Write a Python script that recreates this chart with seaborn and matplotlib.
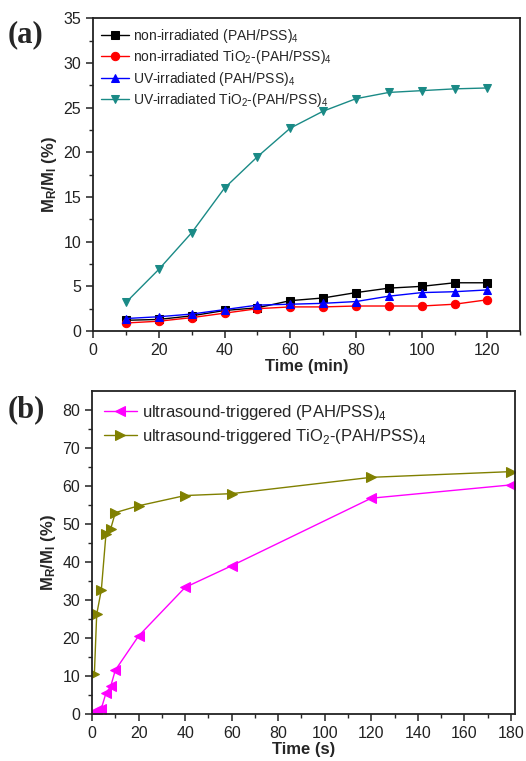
import matplotlib
matplotlib.use("Agg")
import matplotlib.pyplot as plt
import numpy as np
import pandas as pd
import seaborn as sns

# panel (a): release vs time (min)
time_a = [10, 20, 30, 40, 50, 60, 70, 80, 90, 100, 110, 120]
non_irr = [1.2, 1.3, 1.7, 2.3, 2.6, 3.4, 3.7, 4.3, 4.8, 5.0, 5.4, 5.4]
non_irr_tio2 = [0.9, 1.1, 1.5, 2.0, 2.5, 2.7, 2.7, 2.8, 2.8, 2.8, 3.0, 3.5]
uv_irr = [1.4, 1.6, 1.9, 2.4, 2.9, 3.0, 3.1, 3.3, 3.9, 4.3, 4.4, 4.6]
uv_irr_tio2 = [3.2, 6.9, 11.0, 16.0, 19.5, 22.7, 24.6, 26.0, 26.7, 26.9, 27.1, 27.2]

# panel (b): release vs time (s)
time_b = [1, 2, 4, 6, 8, 10, 20, 40, 60, 120, 180]
us_pah = [0.6, 1.0, 1.4, 5.5, 7.2, 11.5, 20.5, 33.3, 39.0, 56.8, 60.3]
us_tio2 = [10.5, 26.2, 32.7, 47.5, 48.7, 53.0, 54.8, 57.5, 58.0, 62.3, 63.8]

sns.set_style("ticks")
plt.rcParams["font.family"] = ["Liberation Sans", "DejaVu Sans"]
plt.rcParams["mathtext.fontset"] = "custom"
plt.rcParams["mathtext.rm"] = "Liberation Sans"
plt.rcParams["mathtext.bf"] = "Liberation Sans:bold"
plt.rcParams["axes.edgecolor"] = "#222222"

fig = plt.figure(figsize=(5.26, 7.61), dpi=100)
ax1 = fig.add_axes([0.177, 0.565, 0.812, 0.411])
ax2 = fig.add_axes([0.175, 0.062, 0.805, 0.424])

series_a = [
    ("non-irradiated (PAH/PSS)$_4$", non_irr, "black", "s"),
    ("non-irradiated TiO$_2$-(PAH/PSS)$_4$", non_irr_tio2, "red", "o"),
    ("UV-irradiated (PAH/PSS)$_4$", uv_irr, "blue", "^"),
    ("UV-irradiated TiO$_2$-(PAH/PSS)$_4$", uv_irr_tio2, "#1a8a86", "v"),
]
for label, vals, col, mk in series_a:
    df = pd.DataFrame({"t": time_a, "v": vals})
    sns.lineplot(data=df, x="t", y="v", ax=ax1, color=col, marker=mk,
                 markersize=6, markeredgecolor=col, linewidth=1.0, label=label)

series_b = [
    ("ultrasound-triggered (PAH/PSS)$_4$", us_pah, "#ff00ff", "<"),
    ("ultrasound-triggered TiO$_2$-(PAH/PSS)$_4$", us_tio2, "#808000", ">"),
]
for label, vals, col, mk in series_b:
    df = pd.DataFrame({"t": time_b, "v": vals})
    sns.lineplot(data=df, x="t", y="v", ax=ax2, color=col, marker=mk,
                 markersize=7, markeredgecolor=col, linewidth=1.0, label=label)

ax1.set_xlim(0, 130)
ax1.set_ylim(0, 35)
ax1.set_xticks(np.arange(0, 121, 20))
ax1.set_xticks(np.arange(10, 131, 20), minor=True)
ax1.set_yticks(np.arange(0, 36, 5))
ax1.set_yticks(np.arange(2.5, 35, 5), minor=True)
ax1.set_xlabel("Time (min)", fontweight="bold", fontsize=12, labelpad=1)
ax1.set_ylabel(r"$\mathbf{M_R/M_I}$ (%)", fontweight="bold", fontsize=12, labelpad=3)

ax2.set_xlim(0, 182)
ax2.set_ylim(0, 85)
ax2.set_xticks(np.arange(0, 181, 20))
ax2.set_xticks(np.arange(10, 181, 20), minor=True)
ax2.set_yticks(np.arange(0, 81, 10))
ax2.set_yticks(np.arange(5, 85, 10), minor=True)
ax2.set_xlabel("Time (s)", fontweight="bold", fontsize=12, labelpad=1)
ax2.set_ylabel(r"$\mathbf{M_R/M_I}$ (%)", fontweight="bold", fontsize=12, labelpad=3)

for ax in (ax1, ax2):
    for sp in ax.spines.values():
        sp.set_visible(True)
        sp.set_linewidth(1.3)
    ax.tick_params(which="major", direction="out", length=5, width=1.1,
                   labelsize=11.5, colors="#222222", top=False, right=False)
    ax.tick_params(which="minor", direction="out", length=3, width=1.0,
                   top=False, right=False)

ax1.legend(loc="upper left", frameon=False, fontsize=10, handlelength=2.0,
           borderaxespad=0.2, labelspacing=0.25, handletextpad=0.3)
ax2.legend(loc="upper left", frameon=False, fontsize=12, handlelength=2.0,
           borderaxespad=0.3, labelspacing=0.3, handletextpad=0.3)

fig.text(0.015, 0.955, "(a)", fontsize=22, fontweight="bold",
         family="Liberation Serif", va="center")
fig.text(0.015, 0.462, "(b)", fontsize=22, fontweight="bold",
         family="Liberation Serif", va="center")

fig.savefig("out.png", dpi=100)
